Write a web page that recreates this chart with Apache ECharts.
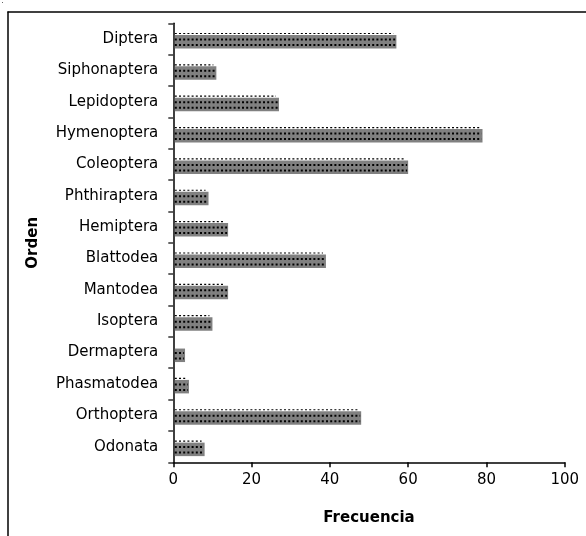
<!DOCTYPE html>
<html>
<head>
<meta charset="utf-8">
<script src="https://cdn.jsdelivr.net/npm/echarts@6/dist/echarts.min.js"></script>
<style>
html,body{margin:0;padding:0;background:#fff;}
#chart{width:586px;height:536px;}
</style>
</head>
<body>
<div id="chart"></div>
<script>
const categories = ['Diptera','Siphonaptera','Lepidoptera','Hymenoptera','Coleoptera','Phthiraptera','Hemiptera','Blattodea','Mantodea','Isoptera','Dermaptera','Phasmatodea','Orthoptera','Odonata'];
const frecuencia = [57, 11, 27, 79, 60, 9, 14, 39, 14, 10, 3, 4, 48, 8];
const xTicks = [0, 20, 40, 60, 80, 100];
const xAxisName = 'Frecuencia';
const yAxisName = 'Orden';

const FONT = 'DejaVu Sans';
const chart = echarts.init(document.getElementById('chart'), null, {renderer: 'canvas'});

function renderBar(params, api) {
  const v = api.value(0);
  const i = api.value(1);
  const p0 = api.coord([0, i]);
  const p1 = api.coord([v, i]);
  const c = p0[1];
  const x0 = p0[0] + 1.5;
  const x1 = p1[0];
  const w = Math.max(0, x1 - x0);
  const dash = {stroke: '#000', lineWidth: 2, lineDash: [2, 2.2], fill: null};
  const children = [
    {type: 'rect', shape: {x: x0, y: c - 4, width: w, height: 13.5}, style: {fill: '#808080'}},
    {type: 'line', shape: {x1: x0, y1: c + 0.5, x2: x1 - 1, y2: c + 0.5}, style: dash},
    {type: 'line', shape: {x1: x0, y1: c + 6, x2: x1 - 1, y2: c + 6}, style: dash}
  ];
  if (w > 14) {
    children.push({type: 'line', shape: {x1: x0, y1: c - 5.5, x2: x1 - 3, y2: c - 5.5},
      style: {stroke: '#000', lineWidth: 1.2, lineDash: [2, 2.2], fill: null}});
  }
  return {type: 'group', children: children};
}

const option = {
  backgroundColor: '#fff',
  animation: false,
  textStyle: {fontFamily: FONT},
  graphic: [
    {type: 'line', shape: {x1: 7.5, y1: 12, x2: 600, y2: 12}, style: {stroke: '#000', lineWidth: 1.5}, z: 100},
    {type: 'line', shape: {x1: 8, y1: 11.5, x2: 8, y2: 600}, style: {stroke: '#000', lineWidth: 1.5}, z: 100},
    {type: 'rect', shape: {x: 2, y: 2, width: 1, height: 1}, style: {fill: '#666'}}
  ],
  grid: {left: 173.3, right: 21.3, top: 23.3, bottom: 73.7, containLabel: false},
  xAxis: {
    type: 'value', min: xTicks[0], max: xTicks[xTicks.length - 1], interval: 20,
    name: xAxisName, nameLocation: 'middle', nameGap: 48,
    nameTextStyle: {fontFamily: FONT, fontSize: 15, fontWeight: 'bold', color: '#000'},
    axisLine: {show: true, lineStyle: {color: '#000', width: 1.5}},
    axisTick: {show: true, length: 5, lineStyle: {color: '#000', width: 1.5}},
    axisLabel: {fontFamily: FONT, fontSize: 15, color: '#000', margin: 10},
    splitLine: {show: false}
  },
  yAxis: {
    type: 'category', data: categories, inverse: true,
    name: yAxisName, nameLocation: 'middle', nameGap: 133, nameRotate: 90,
    nameTextStyle: {fontFamily: FONT, fontSize: 15, fontWeight: 'bold', color: '#000'},
    axisLine: {show: true, lineStyle: {color: '#000', width: 1.5}},
    axisTick: {show: true, length: 5, lineStyle: {color: '#333', width: 1.5}},
    axisLabel: {fontFamily: FONT, fontSize: 15, color: '#000', margin: 15},
    splitLine: {show: false}
  },
  series: [{
    type: 'custom',
    renderItem: renderBar,
    encode: {x: 0, y: 1},
    data: frecuencia.map((v, i) => [v, i]),
    z: 1
  }]
};
chart.setOption(option);
</script>
</body>
</html>
